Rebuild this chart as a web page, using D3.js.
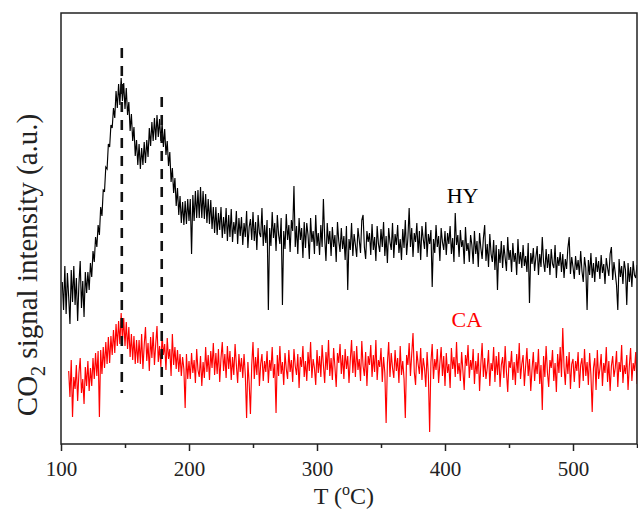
<!DOCTYPE html>
<html>
<head>
<meta charset="utf-8">
<script src="https://cdn.jsdelivr.net/npm/d3@7"></script>
<style>
  html, body { margin: 0; padding: 0; background: #fff; }
  svg { display: block; font-family: "Liberation Serif", "Times New Roman", serif; }
</style>
</head>
<body>
<svg id="chart" width="638" height="509"></svg>
<script>

// HY trace, T = 101 .. 550
const hyTemps = d3.range(101, 551);
const hySignal = [
  162, 134, 178, 130, 171, 147, 120, 174, 142, 178,
  139, 166, 123, 160, 183, 136, 163, 127, 172, 151,
  172, 154, 181, 167, 193, 182, 207, 197, 219, 209,
  237, 228, 254, 253, 277, 275, 300, 297, 319, 316,
  336, 326, 353, 336, 360, 339, 366, 343, 361, 335,
  356, 329, 342, 313, 330, 303, 317, 288, 304, 279,
  300, 275, 296, 279, 302, 281, 304, 287, 316, 298,
  322, 303, 326, 304, 329, 307, 325, 303, 321, 297,
  315, 289, 303, 278, 292, 262, 276, 251, 266, 238,
  256, 229, 248, 221, 242, 219, 243, 220, 245, 223,
  245, 190, 249, 223, 253, 226, 254, 226, 257, 226,
  253, 225, 250, 221, 245, 220, 244, 215, 237, 211,
  237, 209, 231, 214, 237, 206, 227, 210, 236, 203,
  229, 207, 235, 202, 222, 210, 233, 200, 226, 208,
  227, 199, 221, 207, 233, 196, 217, 225, 204, 232,
  203, 222, 194, 229, 211, 207, 236, 198, 219, 201,
  224, 134, 216, 198, 232, 206, 221, 193, 229, 209,
  200, 226, 139, 213, 195, 230, 204, 219, 192, 224,
  213, 258, 197, 218, 190, 226, 204, 216, 186, 222,
  196, 221, 209, 185, 226, 202, 213, 190, 229, 198,
  211, 189, 219, 197, 245, 206, 183, 221, 200, 213,
  188, 217, 197, 209, 182, 222, 203, 192, 216, 195,
  208, 184, 218, 154, 205, 194, 221, 188, 210, 199,
  187, 216, 204, 191, 224, 229, 197, 185, 213, 202,
  211, 189, 220, 194, 207, 183, 218, 200, 192, 215,
  197, 222, 188, 208, 181, 216, 202, 194, 221, 186,
  210, 199, 219, 191, 205, 184, 215, 196, 224, 189,
  206, 236, 197, 216, 187, 211, 202, 221, 191, 213,
  184, 218, 205, 195, 222, 187, 210, 200, 214, 157,
  205, 191, 219, 197, 208, 183, 216, 202, 194, 213,
  189, 211, 200, 218, 190, 206, 182, 231, 199, 209,
  187, 214, 197, 204, 180, 217, 193, 201, 182, 209,
  199, 180, 213, 190, 203, 177, 211, 196, 185, 206,
  219, 183, 200, 177, 210, 190, 182, 204, 174, 199,
  154, 195, 181, 203, 176, 199, 186, 173, 207, 184,
  194, 172, 201, 182, 191, 169, 205, 180, 192, 176,
  199, 178, 188, 172, 201, 141, 191, 180, 196, 173,
  187, 198, 169, 190, 177, 207, 182, 172, 195, 176,
  190, 169, 195, 180, 176, 199, 166, 187, 178, 192,
  172, 190, 166, 185, 175, 196, 207, 170, 187, 177,
  165, 188, 174, 184, 169, 193, 173, 162, 187, 176,
  134, 184, 169, 191, 166, 181, 162, 187, 172, 183,
  165, 189, 171, 180, 160, 186, 176, 168, 190, 197,
  164, 182, 171, 159, 134, 185, 167, 178, 160, 183,
  174, 139, 181, 162, 177, 157, 183, 169, 166, 179
];

// CA trace, T = 106 .. 550
const caTemps = d3.range(106, 551);
const caSignal = [
  73, 47, 84, 27, 67,
  55, 79, 43, 71, 86, 51, 65, 40, 77, 58,
  83, 53, 76, 58, 86, 65, 91, 68, 93, 27,
  94, 70, 97, 76, 102, 80, 107, 81, 108, 89,
  114, 91, 120, 98, 123, 100, 131, 103, 126, 98,
  122, 95, 117, 87, 110, 84, 108, 80, 104, 81,
  104, 80, 110, 75, 99, 117, 83, 101, 73, 107,
  86, 112, 79, 100, 118, 82, 98, 77, 109, 89,
  100, 74, 106, 85, 95, 68, 110, 79, 97, 75,
  94, 72, 90, 68, 87, 75, 36, 90, 65, 83,
  65, 91, 71, 84, 61, 95, 74, 67, 88, 58,
  82, 66, 97, 72, 89, 64, 93, 76, 101, 69,
  91, 70, 95, 62, 86, 102, 73, 90, 66, 98,
  75, 93, 64, 87, 69, 100, 79, 61, 90, 72,
  86, 66, 90, 69, 26, 82, 61, 30, 79, 102,
  65, 87, 69, 96, 58, 80, 90, 63, 83, 72,
  93, 61, 84, 73, 97, 66, 80, 31, 89, 68,
  98, 70, 82, 59, 91, 75, 65, 94, 72, 84,
  62, 95, 78, 69, 90, 56, 87, 77, 98, 67,
  83, 63, 92, 73, 102, 66, 85, 76, 59, 94,
  71, 88, 67, 99, 79, 61, 92, 74, 104, 68,
  86, 64, 96, 77, 57, 91, 81, 100, 70, 89,
  65, 95, 75, 88, 61, 84, 104, 71, 93, 67,
  98, 74, 85, 63, 103, 78, 68, 92, 58, 88,
  79, 99, 67, 89, 72, 104, 64, 84, 77, 96,
  62, 87, 71, 21, 81, 102, 67, 91, 76, 66,
  94, 73, 86, 61, 98, 69, 83, 65, 26, 89,
  79, 101, 68, 90, 111, 72, 59, 93, 80, 70,
  96, 64, 86, 76, 57, 92, 69, 12, 82, 100,
  65, 85, 74, 95, 61, 81, 97, 68, 88, 58,
  91, 71, 80, 56, 96, 75, 87, 67, 102, 70,
  81, 63, 92, 73, 54, 89, 78, 99, 66, 84,
  74, 95, 60, 83, 70, 91, 53, 80, 101, 67,
  86, 65, 76, 94, 58, 81, 73, 97, 62, 88,
  69, 92, 57, 79, 87, 66, 98, 72, 52, 83,
  76, 93, 64, 82, 59, 90, 71, 101, 65, 80,
  89, 58, 78, 96, 68, 85, 53, 75, 92, 63,
  82, 70, 95, 60, 79, 34, 88, 67, 98, 72,
  57, 84, 76, 94, 63, 81, 52, 90, 71, 97,
  67, 116, 77, 59, 88, 70, 92, 55, 80, 85,
  62, 83, 73, 92, 56, 79, 86, 63, 95, 68,
  82, 59, 91, 69, 32, 76, 86, 54, 94, 65,
  75, 90, 58, 81, 71, 97, 62, 83, 53, 78,
  88, 67, 76, 93, 57, 82, 72, 99, 61, 79,
  70, 89, 54, 78, 96, 63, 81, 73, 92, 60
];

// Dashed markers at the two HY desorption peaks
const peakTemps = [147.5, 178.7];
const peakTops = [396, 347];
const peakBottoms = [51, 42];

// Axis ticks and series labels
const majorTicks = [100, 200, 300, 400, 500];
const minorTicks = [150, 250, 350, 450, 550];
const seriesNames = ["HY", "CA"];
const seriesColors = ["#000000", "#ff0000"];
const labelTemps = [413.7, 417];
const labelValues = [241, 117];

/* Layout */
const margin = { left: 61, top: 13, right: 1, bottom: 65 };
const width = 638;
const height = 509;
const plotW = width - margin.left - margin.right;
const plotH = height - margin.top - margin.bottom;

const svg = d3.select("#chart");

const x = d3.scaleLinear().domain([100, 550]).range([margin.left, margin.left + plotW]);
const y = d3.scaleLinear().domain([0, 431]).range([margin.top + plotH, margin.top]);

// Clip the noisy traces to the frame
svg.append("clipPath")
  .attr("id", "plot-clip")
  .append("rect")
  .attr("x", margin.left)
  .attr("y", margin.top)
  .attr("width", plotW)
  .attr("height", plotH);

const line = d3.line()
  .x(d => x(d.t))
  .y(d => y(d.v));

const series = [
  { name: seriesNames[0], color: seriesColors[0], points: hyTemps.map((t, i) => ({ t, v: hySignal[i] })) },
  { name: seriesNames[1], color: seriesColors[1], points: caTemps.map((t, i) => ({ t, v: caSignal[i] })) }
];

svg.append("g")
  .attr("clip-path", "url(#plot-clip)")
  .selectAll("path")
  .data(series)
  .join("path")
  .attr("fill", "none")
  .attr("stroke", d => d.color)
  .attr("stroke-width", 1.15)
  .attr("stroke-linejoin", "miter")
  .attr("d", d => line(d.points));

// Vertical dashed peak markers
svg.append("g")
  .selectAll("line")
  .data(peakTemps)
  .join("line")
  .attr("x1", d => x(d))
  .attr("x2", d => x(d))
  .attr("y1", (d, i) => y(peakTops[i]))
  .attr("y2", (d, i) => y(peakBottoms[i]))
  .attr("stroke", "#111")
  .attr("stroke-width", 2.6)
  .attr("stroke-dasharray", "10,8");

// Series labels
svg.append("g")
  .selectAll("text")
  .data(seriesNames)
  .join("text")
  .attr("x", (d, i) => x(labelTemps[i]))
  .attr("y", (d, i) => y(labelValues[i]))
  .attr("text-anchor", "middle")
  .attr("font-size", 22)
  .attr("fill", (d, i) => seriesColors[i])
  .text(d => d);

// Frame
svg.append("rect")
  .attr("x", margin.left)
  .attr("y", margin.top)
  .attr("width", plotW)
  .attr("height", plotH)
  .attr("fill", "none")
  .attr("stroke", "#222")
  .attr("stroke-width", 1.5);

// Bottom axis: labelled major ticks, bare minor ticks, both pointing out
const axisY = margin.top + plotH;

const majorAxis = svg.append("g")
  .attr("transform", `translate(0,${axisY})`)
  .call(d3.axisBottom(x).tickValues(majorTicks).tickSize(7).tickPadding(10).tickFormat(d3.format("d")));

majorAxis.select(".domain").remove();
majorAxis.selectAll("line").attr("stroke", "#222").attr("stroke-width", 1.5);
majorAxis.selectAll("text")
  .attr("font-family", "Liberation Serif, Times New Roman, serif")
  .attr("font-size", 21)
  .attr("fill", "#222");

const minorAxis = svg.append("g")
  .attr("transform", `translate(0,${axisY})`)
  .call(d3.axisBottom(x).tickValues(minorTicks).tickSize(4).tickFormat(""));

minorAxis.select(".domain").remove();
minorAxis.selectAll("line").attr("stroke", "#222").attr("stroke-width", 1.5);

// Axis titles
const xTitle = svg.append("text")
  .attr("x", x(321))
  .attr("y", 504)
  .attr("text-anchor", "middle")
  .attr("font-size", 24)
  .attr("fill", "#222");
xTitle.append("tspan").text("T (");
xTitle.append("tspan").attr("dy", -9).attr("font-size", 16).text("o");
xTitle.append("tspan").attr("dy", 9).text("C)");

const yTitle = svg.append("text")
  .attr("transform", `translate(37,${265}) rotate(-90)`)
  .attr("text-anchor", "middle")
  .attr("font-size", 29)
  .attr("fill", "#222");
yTitle.append("tspan").text("CO");
yTitle.append("tspan").attr("dy", 8).attr("font-size", 20).text("2");
yTitle.append("tspan").attr("dy", -8).text(" signal intensity (a.u.)");
</script>
</body>
</html>
